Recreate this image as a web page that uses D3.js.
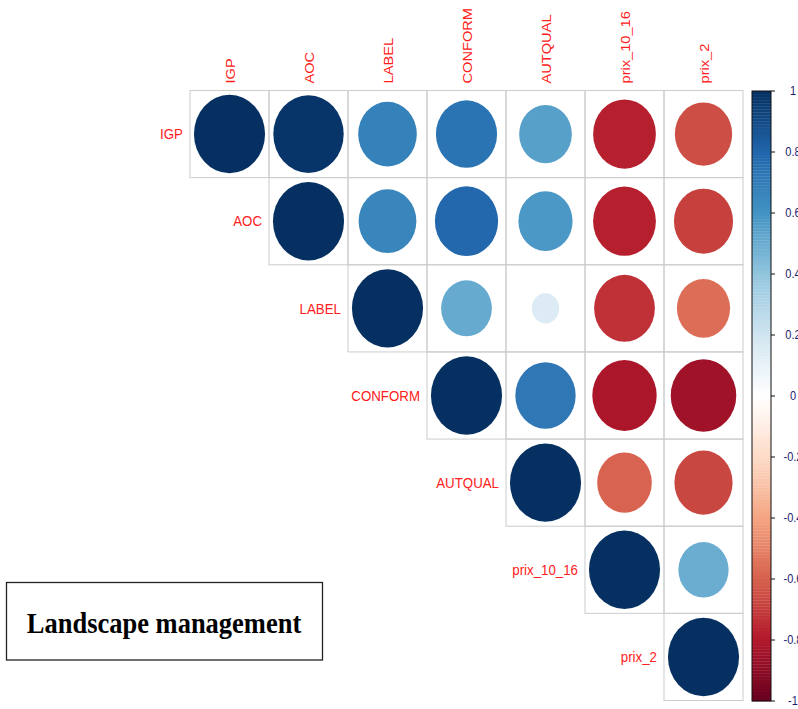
<!DOCTYPE html>
<html>
<head>
<meta charset="utf-8">
<script src="https://cdn.jsdelivr.net/npm/d3@7/dist/d3.min.js"></script>
<style>
  html, body { margin: 0; padding: 0; background: #ffffff; }
  svg { display: block; }
</style>
</head>
<body>
<svg id="chart" width="798" height="709"></svg>
<script>
// ---- data ----
const variables = ["IGP", "AOC", "LABEL", "CONFORM", "AUTQUAL", "prix_10_16", "prix_2"];
// upper-triangle correlations, each row starts at the diagonal
const rowIGP      = [1, 0.98, 0.68, 0.74, 0.55, -0.78, -0.65];
const rowAOC      = [1, 0.66, 0.79, 0.58, -0.78, -0.69];
const rowLABEL    = [1, 0.51, 0.15, -0.73, -0.56];
const rowCONFORM  = [1, 0.72, -0.82, -0.85];
const rowAUTQUAL  = [1, -0.59, -0.67];
const rowPrix1016 = [1, 0.50];
const rowPrix2    = [1];
const legendTicks = [1, 0.8, 0.6, 0.4, 0.2, 0, -0.2, -0.4, -0.6, -0.8, -1];
const legendTickLabels = ["1", "0.8", "0.6", "0.4", "0.2", "0", "-0.2", "-0.4", "-0.6", "-0.8", "-1"];
const paletteStops = [-1, -0.8, -0.6, -0.4, -0.2, 0, 0.2, 0.4, 0.6, 0.8, 1];
const paletteColors = ["#67001F", "#B2182B", "#D6604D", "#F4A582", "#FDDBC7", "#FFFFFF",
                       "#D1E5F0", "#92C5DE", "#4393C3", "#2166AC", "#053061"];
const titleText = "Landscape management";

const rows = [rowIGP, rowAOC, rowLABEL, rowCONFORM, rowAUTQUAL, rowPrix1016, rowPrix2];
const cells = [];
rows.forEach((r, i) => r.forEach((v, k) => cells.push({ row: variables[i], col: variables[i + k], value: v })));

// ---- layout ----
const svg = d3.select("#chart");
const gridLeft = 190, gridRight = 743, gridTop = 90.5, gridBottom = 700.5;
const vStretch = 1.1;

const x = d3.scaleBand().domain(variables).range([gridLeft, gridRight]);
const y = d3.scaleBand().domain(variables).range([gridTop, gridBottom]);
const color = d3.scaleLinear().domain(paletteStops).range(paletteColors).interpolate(d3.interpolateRgb).clamp(true);
const radius = d3.scaleSqrt().domain([0, 1]).range([0, 0.45]);

// cell grid
svg.append("g").selectAll("rect").data(cells).join("rect")
  .attr("x", d => x(d.col)).attr("y", d => y(d.row))
  .attr("width", x.bandwidth()).attr("height", y.bandwidth())
  .attr("fill", "none").attr("stroke", "#cccccc").attr("stroke-width", 1);

// circles (ellipses because of the stretched aspect)
svg.append("g").selectAll("ellipse").data(cells).join("ellipse")
  .attr("cx", d => x(d.col) + x.bandwidth() / 2)
  .attr("cy", d => y(d.row) + y.bandwidth() / 2)
  .attr("rx", d => radius(Math.abs(d.value)) * x.bandwidth())
  .attr("ry", d => radius(Math.abs(d.value)) * y.bandwidth())
  .attr("fill", d => color(d.value));

// top labels
svg.append("g").selectAll("text").data(variables).join("text")
  .attr("transform", d => `translate(${x(d) + x.bandwidth() / 2 + 1},${gridTop - 7}) scale(1,${vStretch}) rotate(-90)`)
  .attr("dominant-baseline", "central")
  .attr("text-anchor", "start")
  .attr("font-family", "Liberation Sans, Arial, sans-serif")
  .attr("font-size", 13.3)
  .attr("fill", "#ff2020")
  .text(d => d);

// row labels (next to the diagonal)
svg.append("g").selectAll("text").data(variables).join("text")
  .attr("transform", d => `translate(${x(d) - 7},${y(d) + y.bandwidth() / 2}) scale(1,${vStretch})`)
  .attr("dominant-baseline", "central")
  .attr("text-anchor", "end")
  .attr("font-family", "Liberation Sans, Arial, sans-serif")
  .attr("font-size", 13.3)
  .attr("fill", "#ff2020")
  .text(d => d);

// colour legend
const barLeft = 752, barRight = 771, barTop = 91, barBottom = 701;
const ly = d3.scaleLinear().domain([1, -1]).range([barTop, barBottom]);
const nBins = 200;
const bins = d3.range(nBins).map(i => -1 + (i + 0.5) * 2 / nBins);
svg.append("g").selectAll("rect").data(bins).join("rect")
  .attr("x", barLeft)
  .attr("y", d => ly(d + 1 / nBins))
  .attr("width", barRight - barLeft)
  .attr("height", ly(-1) - ly(-1 + 2 / nBins) + 0.3)
  .attr("fill", d => color(d));
svg.append("rect")
  .attr("x", barLeft).attr("y", barTop)
  .attr("width", barRight - barLeft).attr("height", barBottom - barTop)
  .attr("fill", "none").attr("stroke", "#111111").attr("stroke-width", 1);

const lg = svg.append("g");
lg.selectAll("line").data(legendTicks).join("line")
  .attr("x1", barRight).attr("x2", barRight + 4)
  .attr("y1", d => ly(d)).attr("y2", d => ly(d))
  .attr("stroke", "#111111").attr("stroke-width", 1);
lg.selectAll("text").data(legendTicks).join("text")
  .attr("transform", d => `translate(793,${ly(d)}) scale(1,${vStretch})`)
  .attr("dominant-baseline", "central")
  .attr("text-anchor", "middle")
  .attr("font-family", "Liberation Sans, Arial, sans-serif")
  .attr("font-size", 11)
  .attr("fill", "#1c1c6e")
  .text((d, i) => legendTickLabels[i]);

// title box
svg.append("rect")
  .attr("x", 6.5).attr("y", 582.5).attr("width", 316).attr("height", 77.5)
  .attr("fill", "#ffffff").attr("stroke", "#222222").attr("stroke-width", 1.3);
svg.append("text")
  .attr("transform", `translate(164,633) scale(1,${vStretch})`)
  .attr("text-anchor", "middle")
  .attr("font-family", "Liberation Serif, Times New Roman, serif")
  .attr("font-weight", "bold")
  .attr("font-size", 26.5)
  .attr("fill", "#000000")
  .text(titleText);
</script>
</body>
</html>
